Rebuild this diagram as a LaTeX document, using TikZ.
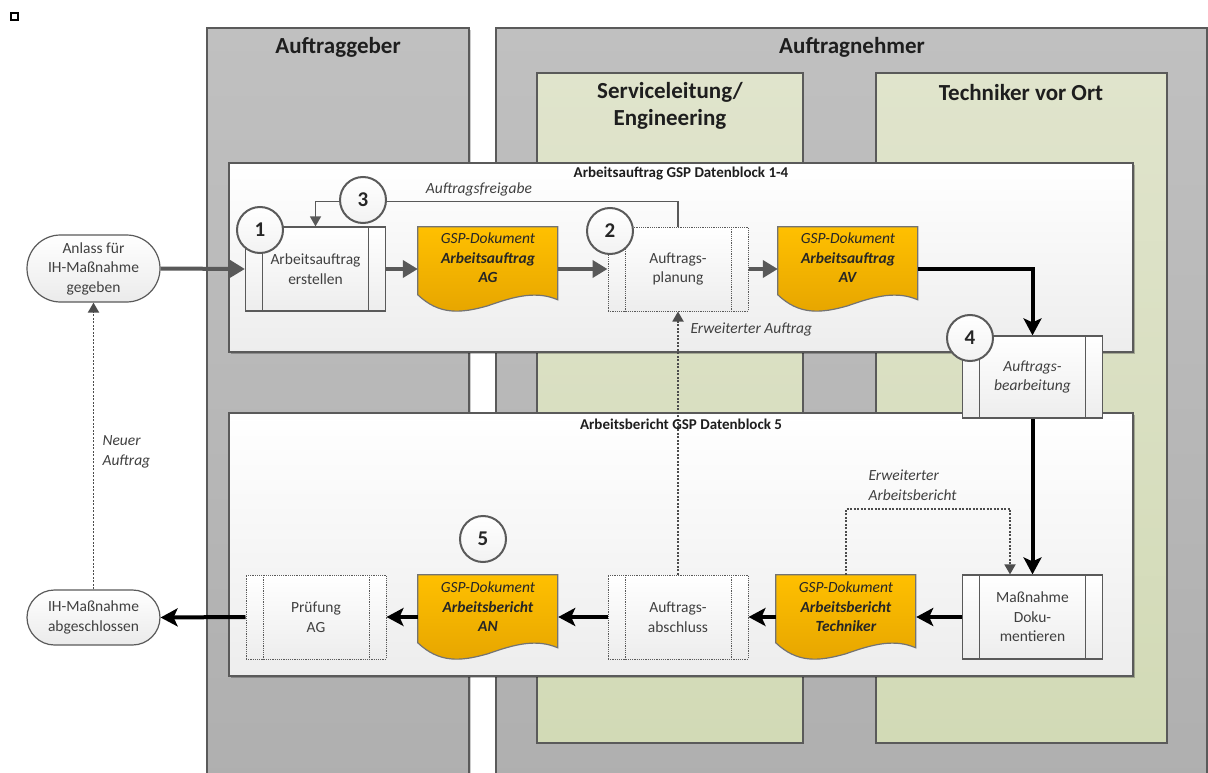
\documentclass[tikz,border=0pt]{standalone}
\usepackage{fontspec}
\setmainfont{Carlito}
\usetikzlibrary{arrows.meta,calc,shadows,shapes.misc}
\pgfdeclarelayer{bg}
\pgfdeclarelayer{docs}
\pgfdeclarelayer{edges}
\pgfsetlayers{bg,docs,edges,main}

\definecolor{laneTop}{HTML}{C0C0C0}
\definecolor{laneBot}{HTML}{AFAFAF}
\definecolor{subTop}{HTML}{E0E4CC}
\definecolor{subBot}{HTML}{D2DAB6}
\definecolor{edgeGray}{HTML}{595959}
\definecolor{frameGray}{HTML}{5A5A5A}
\definecolor{docTop}{HTML}{FFC000}
\definecolor{docBot}{HTML}{E6A500}
\definecolor{txtGray}{HTML}{404040}
\definecolor{titleBlack}{HTML}{1E1E1E}

% document symbol with a wavy lower edge, drawn behind the named frame node
\newcommand\docpath[2]{%
  \begin{scope}[shift={(#1.north west)}]
    \path[docshape] (0,0) -- (#2,0) -- (#2,73)
      .. controls ({0.85*#2},64) and ({0.7*#2},69) .. ({0.5*#2},79)
      .. controls ({0.3*#2},87) and ({0.15*#2},88) .. (0,68) -- cycle;
  \end{scope}}

\begin{document}
\begin{tikzpicture}[
  x=1pt, y=-1pt,
  every node/.style={font=\fontsize{15.5}{19.5}\selectfont, text=txtGray},
  lane/.style={draw=frameGray, line width=1.3pt, top color=laneTop, bottom color=laneBot,
    drop shadow={shadow xshift=2pt, shadow yshift=-2pt, opacity=.2, fill=black}},
  sublane/.style={draw=frameGray, line width=1.3pt, top color=subTop, bottom color=subBot},
  group/.style={draw=frameGray, line width=1.3pt, top color=white, bottom color=black!7,
    drop shadow={shadow xshift=2pt, shadow yshift=-2pt, opacity=.25, fill=black}},
  lanetitle/.style={font=\fontsize{23}{27}\selectfont\bfseries, text=titleBlack, align=center},
  grouptitle/.style={font=\fontsize{15}{18}\selectfont\bfseries, text=titleBlack},
  proc/.style={rectangle, draw=frameGray, line width=1.2pt, top color=white, bottom color=black!7,
    minimum width=140pt, minimum height=84pt, inner sep=1pt, align=center, #1,
    path picture={\draw[frameGray, line width=1.2pt, #1]
      ([xshift=17pt]path picture bounding box.north west) -- ([xshift=17pt]path picture bounding box.south west)
      ([xshift=-17pt]path picture bounding box.north east) -- ([xshift=-17pt]path picture bounding box.south east);}},
  proc/.default=solid,
  docframe/.style={rectangle, minimum width=140pt, minimum height=84pt, inner sep=0pt},
  doctext/.style={align=center, text=black!85},
  docshape/.style={draw=frameGray!85, line width=1.2pt, top color=docTop, bottom color=docBot},
  terminal/.style={rounded rectangle, draw=frameGray, line width=1.2pt, top color=white, bottom color=black!8,
    minimum width=137pt, inner sep=2pt, align=center},
  num/.style={circle, draw=frameGray, line width=2pt, top color=white, bottom color=black!5,
    minimum size=46pt, inner sep=0pt, font=\fontsize{21}{24}\selectfont\bfseries, text=black!85},
  flowgray/.style={draw=edgeGray, line width=4pt, -{Triangle[length=15pt,width=17pt]}},
  flowblack/.style={draw=black, line width=4pt, -{Stealth[length=17pt,width=18pt,inset=4pt]}},
  thinflow/.style={draw=edgeGray, line width=1.5pt, -{Triangle[length=10pt,width=11pt]}},
  dotflow/.style={draw=black!70, line width=1.8pt, dash pattern=on 2pt off 1.5pt,
    -{Triangle[length=10pt,width=11pt]}},
  note/.style={font=\fontsize{15.5}{19.5}\selectfont\itshape, text=txtGray, align=left},
]
\useasboundingbox (0,0) rectangle (1208,773);

% ---------- swimlanes and data blocks ----------
\begin{pgfonlayer}{bg}
  \fill[white] (0,0) rectangle (1208,773);
  \path[lane] (207,28) rectangle (469,790);
  \path[lane] (496,28) rectangle (1207,790);
  \path[sublane] (537,73) rectangle (803,743);
  \path[sublane] (876,73) rectangle (1167,743);
  \path[group] (229,163) rectangle (1133,352);
  \path[group] (229,413) rectangle (1133,676);
\end{pgfonlayer}

\node[draw=black, line width=1.6pt, fill=white, minimum size=7pt, inner sep=0pt] (corner) at (14.5,16.5) {};

\node[lanetitle] (t-ag) at (338,47) {Auftraggeber};
\node[lanetitle] (t-an) at (852,47) {Auftragnehmer};
\node[lanetitle] (t-sl) at (670,106) {Serviceleitung/\\Engineering};
\node[lanetitle] (t-tech) at (1021,93) {Techniker vor Ort};
\node[grouptitle] (g1) at (681,174) {Arbeitsauftrag GSP Datenblock 1-4};
\node[grouptitle] (g2) at (681,424) {Arbeitsbericht GSP Datenblock 5};

% ---------- start / end ----------
\node[terminal, minimum height=67pt] (anlass) at (93.5,268.5) {Anlass für\\IH-Maßnahme\\gegeben};
\node[terminal, minimum height=55pt] (fertig) at (93.5,617.5) {IH-Maßnahme\\abgeschlossen};

% ---------- processes ----------
\node[proc] (erstellen) at (315.5,269) {Arbeitsauftrag\\erstellen};
\node[proc={densely dotted, line width=1pt}] (planung) at (678,269) {Auftrags-\\planung};
\node[proc, minimum height=82pt, font=\fontsize{15.5}{19.5}\selectfont\itshape] (bearb) at (1032.5,377) {Auftrags-\\bearbeitung};
\node[proc] (mass) at (1032.5,617) {Maßnahme\\Doku-\\mentieren};
\node[proc={densely dotted, line width=1pt}] (abschluss) at (678,617) {Auftrags-\\abschluss};
\node[proc={densely dotted, line width=1pt}] (pruef) at (316,617) {Prüfung\\AG};

% ---------- documents ----------
\node[docframe] (agdoc) at (488,269) {};
\node[docframe] (avdoc) at (848,269) {};
\node[docframe] (techdoc) at (846,617) {};
\node[docframe] (andoc) at (488,617) {};
\begin{pgfonlayer}{docs}
  \docpath{agdoc}{140}
  \docpath{avdoc}{140}
  \docpath{techdoc}{140}
  \docpath{andoc}{140}
\end{pgfonlayer}
\node[doctext] (agdoc-t) at ([yshift=11pt]agdoc.center)
  {\textit{GSP-Dokument}\\\textbf{\textit{Arbeitsauftrag}}\\\textbf{\textit{AG}}};
\node[doctext] (avdoc-t) at ([yshift=11pt]avdoc.center)
  {\textit{GSP-Dokument}\\\textbf{\textit{Arbeitsauftrag}}\\\textbf{\textit{AV}}};
\node[doctext] (techdoc-t) at ([yshift=10pt]techdoc.center)
  {\textit{GSP-Dokument}\\\textbf{\textit{Arbeitsbericht}}\\\textbf{\textit{Techniker}}};
\node[doctext] (andoc-t) at ([yshift=10pt]andoc.center)
  {\textit{GSP-Dokument}\\\textbf{\textit{Arbeitsbericht}}\\\textbf{\textit{AN}}};

% ---------- connectors ----------
\begin{pgfonlayer}{edges}
  \draw[flowgray] (anlass.east) -- (erstellen.west);
  \draw[flowgray] (erstellen.east) -- (agdoc.west);
  \draw[flowgray] (agdoc.east) -- (planung.west);
  \draw[flowgray] (planung.east) -- (avdoc.west);
  \draw[flowblack] (avdoc.east) -| (bearb.north);
  \draw[flowblack] (bearb.south) -- (mass.north);
  \draw[flowblack] (mass.west) -- (techdoc.east);
  \draw[flowblack] (techdoc.west) -- (abschluss.east);
  \draw[flowblack] (abschluss.west) -- (andoc.east);
  \draw[flowblack] (andoc.west) -- (pruef.east);
  \draw[flowblack] (pruef.west) -- (fertig.east);
  \draw[thinflow] (planung.north) -- ++(0,-25) -| (erstellen.north);
  \draw[dotflow] (abschluss.north) -- (planung.south);
  \draw[dotflow] (techdoc.north) -- ++(0,-66) -| ([xshift=-22.5pt]mass.north);
  \draw[dotflow] (fertig.north) -- (anlass.south);
\end{pgfonlayer}

\node[note] (l-freigabe) at (479,189) {Auftragsfreigabe};
\node[note, anchor=west] (l-erwauftrag) at (687,329) {Erweiterter Auftrag};
\node[note, anchor=west] (l-erwbericht) at (865,485) {Erweiterter\\Arbeitsbericht};
\node[note, anchor=west] (l-neu) at (99,452) {Neuer\\Auftrag};

% ---------- step numbers ----------
\node[num] (c1) at (260,230) {1};
\node[num] (c3) at (363,200) {3};
\node[num] (c2) at (610,231) {2};
\node[num] (c4) at (970,338) {4};
\node[num] (c5) at (483,539) {5};
\end{tikzpicture}
\end{document}
